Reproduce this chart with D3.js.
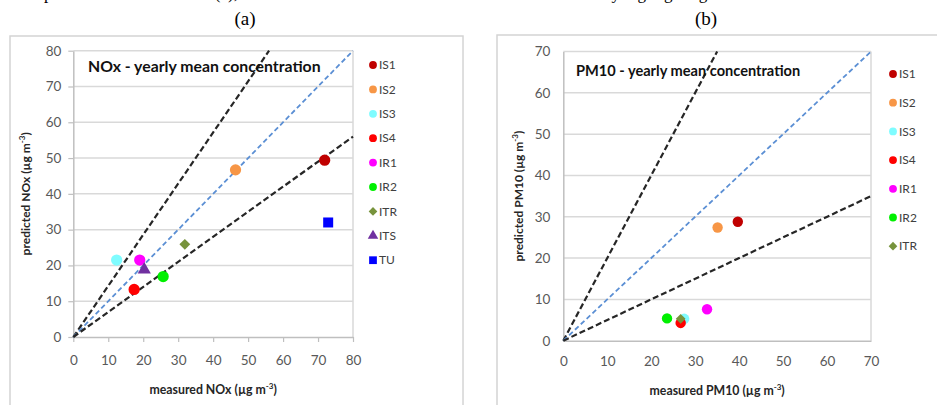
<!DOCTYPE html>
<html>
<head>
<meta charset="utf-8">
<script src="https://cdn.jsdelivr.net/npm/d3@7"></script>
<style>
  body { margin: 0; background: #fff; }
  svg { display: block; }
</style>
</head>
<body>
<svg id="chart" width="937" height="405"></svg>
<script>
// panel (a) NOx
const stationsA = ['IS1', 'IS2', 'IS3', 'IS4', 'IR1', 'IR2', 'ITR', 'ITS', 'TU'];
const noxMeasured = [71.9, 46.4, 12.4, 17.4, 19.0, 25.7, 31.9, 20.3, 72.9];
const noxPredicted = [49.4, 46.7, 21.5, 13.3, 21.5, 16.9, 25.9, 18.8, 32.0];
const ticksA = [0, 10, 20, 30, 40, 50, 60, 70, 80];

// panel (b) PM10
const stationsB = ['IS1', 'IS2', 'IS3', 'IS4', 'IR1', 'IR2', 'ITR'];
const pmMeasured = [39.7, 35.1, 27.5, 26.7, 32.7, 23.6, 26.7];
const pmPredicted = [28.8, 27.4, 5.3, 4.3, 7.6, 5.4, 5.3];
const ticksB = [0, 10, 20, 30, 40, 50, 60, 70];

// reference lines: slope of each dashed line
const slopesA = [1 / 0.7, 1, 0.7];
const slopesB = [2, 1, 0.5];

const styles = {
  IS1: { color: '#c00000', shape: d3.symbolCircle },
  IS2: { color: '#f79646', shape: d3.symbolCircle },
  IS3: { color: '#7ffcff', shape: d3.symbolCircle },
  IS4: { color: '#ff0000', shape: d3.symbolCircle },
  IR1: { color: '#ff00ff', shape: d3.symbolCircle },
  IR2: { color: '#00f000', shape: d3.symbolCircle },
  ITR: { color: '#77933c', shape: d3.symbolDiamond2 },
  ITS: { color: '#7030a0', shape: d3.symbolTriangle },
  TU:  { color: '#0000ff', shape: d3.symbolSquare }
};

const font = 'Lato, "Open Sans", sans-serif';
const svg = d3.select('#chart');

// caption remnant at the very top (only descenders show)
svg.append('text').attr('x', 238).attr('y', -1).attr('text-anchor', 'end')
  .attr('font-family', '"Liberation Serif", serif').attr('font-size', 17)
  .text('gure 6 \u2013 Measured and predicted concentrations (a),');
svg.append('text').attr('x', 603).attr('y', -1)
  .attr('font-family', '"Liberation Serif", serif').attr('font-size', 17)
  .text('by highlighting');

svg.append('text').attr('x', 245).attr('y', 25).attr('text-anchor', 'middle')
  .attr('font-family', '"Liberation Serif", serif').attr('font-size', 19).text('(a)');
svg.append('text').attr('x', 706).attr('y', 25).attr('text-anchor', 'middle')
  .attr('font-family', '"Liberation Serif", serif').attr('font-size', 19).text('(b)');

function drawPanel(cfg) {
  const g = svg.append('g');
  g.append('rect')
    .attr('x', cfg.box[0]).attr('y', cfg.box[1])
    .attr('width', cfg.box[2]).attr('height', cfg.box[3])
    .attr('fill', 'none').attr('stroke', '#d4d4d4').attr('stroke-width', 1.5);

  const x = d3.scaleLinear().domain([0, cfg.max]).range(cfg.xRange);
  const y = d3.scaleLinear().domain([0, cfg.max]).range(cfg.yRange);

  // gridlines
  g.append('g').selectAll('line')
    .data(cfg.ticks.slice(1))
    .join('line')
    .attr('x1', x(0)).attr('x2', x(cfg.max))
    .attr('y1', d => y(d)).attr('y2', d => y(d))
    .attr('stroke', '#d9d9d9').attr('stroke-width', 1.5);
  g.append('line')
    .attr('x1', x(cfg.max)).attr('x2', x(cfg.max))
    .attr('y1', y(0)).attr('y2', y(cfg.max))
    .attr('stroke', '#d9d9d9').attr('stroke-width', 1.5);

  const yAxis = g.append('g')
    .attr('transform', `translate(${x(0)},0)`)
    .call(d3.axisLeft(y).tickValues(cfg.ticks).tickSizeInner(cfg.tick).tickSizeOuter(0).tickPadding(cfg.padY));
  const xAxis = g.append('g')
    .attr('transform', `translate(0,${y(0)})`)
    .call(d3.axisBottom(x).tickValues(cfg.ticks).tickSizeInner(cfg.tick).tickSizeOuter(0).tickPadding(cfg.padX));
  [xAxis, yAxis].forEach(a => {
    a.select('.domain').attr('stroke', '#bfbfbf').attr('stroke-width', 1.5);
    a.selectAll('.tick line').attr('stroke', '#bfbfbf').attr('stroke-width', 1.2);
    a.selectAll('.tick text').attr('fill', '#595959')
      .attr('font-family', font).attr('font-size', 13.5);
  });

  // dashed reference lines
  cfg.slopes.forEach(s => {
    const xEnd = Math.min(cfg.max, cfg.max / s);
    g.append('line')
      .attr('x1', x(0)).attr('y1', y(0))
      .attr('x2', x(xEnd)).attr('y2', y(xEnd * s))
      .attr('stroke', s === 1 ? '#5b8fd4' : '#262626')
      .attr('stroke-width', s === 1 ? 1.8 : 2.2)
      .attr('stroke-dasharray', s === 1 ? '5,3' : '6,3');
  });

  g.append('text')
    .attr('x', cfg.titlePos[0]).attr('y', cfg.titlePos[1])
    .attr('font-family', font).attr('font-weight', 'bold')
    .attr('font-size', cfg.titleSize).attr('fill', '#111')
    .text(cfg.title);

  // points
  g.append('g').selectAll('path')
    .data(cfg.stations.map((s, i) => ({ s, mx: cfg.measured[i], pr: cfg.predicted[i] })))
    .join('path')
    .attr('transform', d => `translate(${x(d.mx)},${y(d.pr)})`)
    .attr('d', d => d3.symbol().type(styles[d.s].shape).size(cfg.markSize[d.s] || cfg.markSize.def)())
    .attr('fill', d => styles[d.s].color);

  // axis titles
  const xt = g.append('text')
    .attr('x', (cfg.xRange[0] + cfg.xRange[1]) / 2).attr('y', cfg.xTitleY)
    .attr('text-anchor', 'middle').attr('font-family', font)
    .attr('font-weight', 'bold').attr('font-size', 12.3).attr('fill', '#262626');
  xt.append('tspan').text(`measured ${cfg.name} (\u00b5g m`);
  xt.append('tspan').attr('dy', -5).attr('font-size', 8).text('-3');
  xt.append('tspan').attr('dy', 5).text(')');

  const yt = g.append('text')
    .attr('transform', `translate(${cfg.yTitleX},${(cfg.yRange[0] + cfg.yRange[1]) / 2}) rotate(-90)`)
    .attr('text-anchor', 'middle').attr('font-family', font)
    .attr('font-weight', 'bold').attr('font-size', 12).attr('fill', '#262626');
  yt.append('tspan').text(`predicted ${cfg.name} (\u00b5g m`);
  yt.append('tspan').attr('dy', -5).attr('font-size', 8).text('-3');
  yt.append('tspan').attr('dy', 5).text(')');

  // legend
  const leg = g.append('g').selectAll('g')
    .data(cfg.stations)
    .join('g')
    .attr('transform', (d, i) => `translate(${cfg.legend[0]},${cfg.legend[1] + i * cfg.legend[2]})`);
  leg.append('path')
    .attr('d', d => d3.symbol().type(styles[d].shape).size(d === 'TU' ? 60 : 48)())
    .attr('fill', d => styles[d].color);
  leg.append('text')
    .attr('x', 6).attr('dy', '0.35em')
    .attr('font-family', font).attr('font-size', 12).attr('fill', '#404040')
    .text(d => d);
}

drawPanel({
  name: 'NOx', title: 'NOx - yearly mean concentration',
  stations: stationsA, measured: noxMeasured, predicted: noxPredicted,
  ticks: ticksA, slopes: slopesA, max: 80,
  box: [10, 36, 453, 390],
  xRange: [73.3, 353], yRange: [337, 50.7],
  tick: 5, padY: 7, padX: 13,
  titlePos: [88, 72], titleSize: 15.8,
  xTitleY: 394, yTitleX: 30,
  markSize: { def: 100, ITR: 75, ITS: 75, TU: 100 },
  legend: [373, 65, 24.4]
});

drawPanel({
  name: 'PM10', title: 'PM10 - yearly mean concentration',
  stations: stationsB, measured: pmMeasured, predicted: pmPredicted,
  ticks: ticksB, slopes: slopesB, max: 70,
  box: [497, 35, 460, 390],
  xRange: [563.3, 871], yRange: [340.7, 51.5],
  tick: 0, padY: 13, padX: 16,
  titlePos: [576, 76], titleSize: 14.6,
  xTitleY: 395, yTitleX: 523,
  markSize: { def: 85, ITR: 60 },
  legend: [893, 74, 28.7]
});
</script>
</body>
</html>
